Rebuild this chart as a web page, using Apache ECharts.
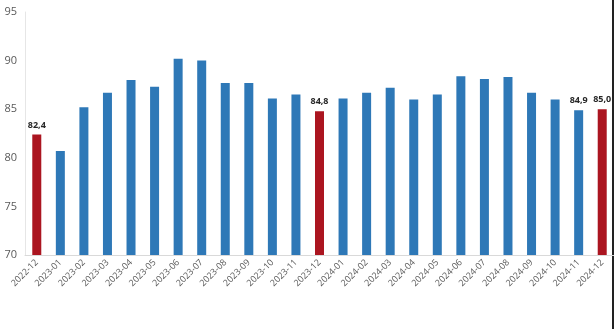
<!DOCTYPE html>
<html>
<head>
<meta charset="utf-8">
<script src="https://cdn.jsdelivr.net/npm/echarts@6/dist/echarts.min.js"></script>
<style>html,body{margin:0;padding:0;background:#fff;}#c{width:614px;height:329px;}</style>
</head>
<body>
<div id="c"></div>
<script>
const categories = ["2022-12","2023-01","2023-02","2023-03","2023-04","2023-05","2023-06","2023-07","2023-08","2023-09","2023-10","2023-11","2023-12","2024-01","2024-02","2024-03","2024-04","2024-05","2024-06","2024-07","2024-08","2024-09","2024-10","2024-11","2024-12"];
const values = [82.4,80.7,85.2,86.7,88.0,87.3,90.2,90.0,87.7,87.7,86.1,86.5,84.8,86.1,86.7,87.2,86.0,86.5,88.4,88.1,88.3,86.7,86.0,84.9,85.0];
const highlighted = ["2022-12","2023-12","2024-12"];
const labelled = ["2022-12","2023-12","2024-11","2024-12"];
const yTicks = [70,75,80,85,90,95];

const chart = echarts.init(document.getElementById('c'), null, {renderer:'canvas'});
const fmt = v => v.toFixed(1).replace('.', ',');
chart.setOption({
  animation:false,
  grid:{left:25,right:-2,top:12,bottom:74,containLabel:false},
  xAxis:{
    type:'category', data:categories,
    axisLine:{lineStyle:{color:'#d9d9d9'}},
    axisTick:{show:false},
    axisLabel:{rotate:45, interval:0, color:'#595959', fontSize:9, fontFamily:'Open Sans', margin:6}
  },
  yAxis:{
    type:'value', min:yTicks[0], max:yTicks[yTicks.length-1], interval:5,
    axisLine:{show:true,lineStyle:{color:'#e6e6e6'}},
    splitLine:{show:false},
    axisTick:{show:false},
    axisLabel:{color:'#595959', fontSize:11, fontFamily:'Open Sans', margin:8}
  },
  series:[{
    type:'bar', barWidth:9,
    data: values.map((v,i)=>({
      value:v,
      itemStyle:{color: highlighted.includes(categories[i]) ? '#ab1520' : '#2e78b7'},
      label:{show: labelled.includes(categories[i]), position:'top', distance:5,
        formatter: p=>fmt(p.value), color:'#262626', fontSize:9, fontWeight:'bold', fontFamily:'Open Sans'}
    }))
  }],
  graphic:[{type:'rect', shape:{x:612,y:0,width:2,height:329}, style:{fill:'#222'}}]
});
</script>
</body>
</html>
